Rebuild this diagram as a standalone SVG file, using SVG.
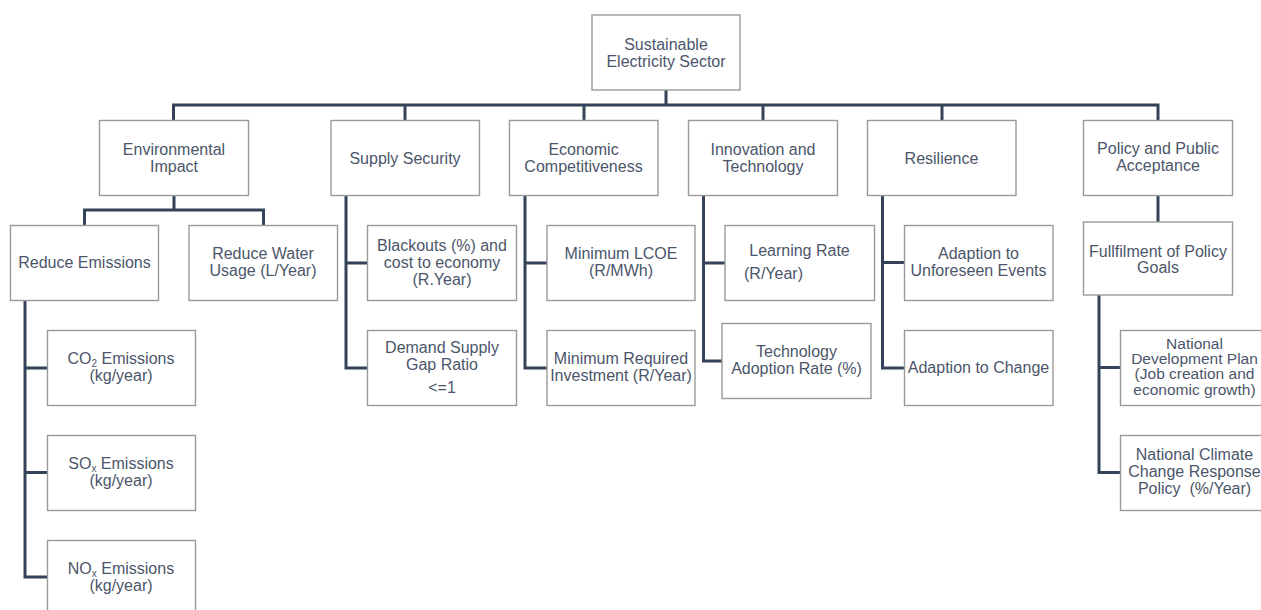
<svg xmlns="http://www.w3.org/2000/svg" width="1261" height="610" viewBox="0 0 1261 610">
  <style>
    .box { fill: #ffffff; stroke: #9a9a9a; stroke-width: 1.4; }
    .lbl { font-family: "Liberation Sans", Arial, Helvetica, sans-serif; font-size: 16px; fill: #4b566a; text-anchor: middle; }
    .small { font-size: 15.5px; }
    .sub { font-size: 10px; }
    .wire { fill: none; stroke: #34425a; stroke-width: 3; stroke-linejoin: miter; stroke-linecap: butt; }
  </style>
  <rect width="1261" height="610" fill="#ffffff"/>

  <!-- connectors -->
  <g id="connectors">
    <!-- root to first level -->
    <path class="wire" d="M666 90 V105"/>
    <path class="wire" d="M173.5 120 V105 H1158 V120"/>
    <path class="wire" d="M405 105 V120 M584 105 V120 M763 105 V120 M942 105 V120"/>
    <!-- Environmental Impact -->
    <path class="wire" d="M174 195 V210 M84.5 225 V210 H263.5 V225"/>
    <!-- Reduce Emissions -->
    <path class="wire" d="M25 300 V577 H47.5 M25 368 H47.5 M25 472.5 H47.5"/>
    <!-- Supply Security -->
    <path class="wire" d="M346 195 V368 H367.5 M346 263 H367.5"/>
    <!-- Economic Competitiveness -->
    <path class="wire" d="M525 195 V368 H547 M525 263 H547"/>
    <!-- Innovation and Technology -->
    <path class="wire" d="M703.5 195 V361 H722 M703.5 263 H725"/>
    <!-- Resilience -->
    <path class="wire" d="M882.5 195 V368 H904.5 M882.5 262.5 H904.5"/>
    <!-- Policy and Public Acceptance -->
    <path class="wire" d="M1158 195.5 V222"/>
    <path class="wire" d="M1099 295 V472.5 H1120.5 M1099 367.5 H1120.5"/>
  </g>

  <!-- root -->
  <g id="root">
    <rect class="box" x="592" y="15" width="148" height="75"/>
    <text class="lbl" x="666" y="49.5">Sustainable</text>
    <text class="lbl" x="666" y="66.5">Electricity Sector</text>
  </g>

  <!-- first level -->
  <g id="environmental-impact">
    <rect class="box" x="99.5" y="120.5" width="149" height="75"/>
    <text class="lbl" x="174" y="154.5">Environmental</text>
    <text class="lbl" x="174" y="171.5">Impact</text>
  </g>
  <g id="supply-security">
    <rect class="box" x="331" y="120.5" width="148.5" height="75"/>
    <text class="lbl" x="405" y="163.5">Supply Security</text>
  </g>
  <g id="economic-competitiveness">
    <rect class="box" x="509.5" y="120.5" width="148.5" height="75"/>
    <text class="lbl" x="583.5" y="154.5">Economic</text>
    <text class="lbl" x="583.5" y="171.5">Competitiveness</text>
  </g>
  <g id="innovation-technology">
    <rect class="box" x="688.5" y="120.5" width="149" height="75"/>
    <text class="lbl" x="763" y="154.5">Innovation and</text>
    <text class="lbl" x="763" y="171.5">Technology</text>
  </g>
  <g id="resilience">
    <rect class="box" x="867.5" y="120.5" width="148.5" height="75"/>
    <text class="lbl" x="941.5" y="163.5">Resilience</text>
  </g>
  <g id="policy-acceptance">
    <rect class="box" x="1083.5" y="120.5" width="149" height="75"/>
    <text class="lbl" x="1158" y="154">Policy and Public</text>
    <text class="lbl" x="1158" y="171">Acceptance</text>
  </g>

  <!-- Environmental Impact branch -->
  <g id="reduce-emissions">
    <rect class="box" x="10.5" y="225.5" width="148" height="75"/>
    <text class="lbl" x="84.5" y="267.5">Reduce Emissions</text>
  </g>
  <g id="reduce-water">
    <rect class="box" x="189" y="225.5" width="148.5" height="75"/>
    <text class="lbl" x="263" y="258.5">Reduce Water</text>
    <text class="lbl" x="263" y="275.5">Usage (L/Year)</text>
  </g>
  <g id="co2-emissions">
    <rect class="box" x="47.5" y="330.5" width="148" height="75"/>
    <text class="lbl" x="121" y="363.5">CO<tspan class="sub" dy="3">2</tspan><tspan dy="-3"> Emissions</tspan></text>
    <text class="lbl" x="121" y="381">(kg/year)</text>
  </g>
  <g id="sox-emissions">
    <rect class="box" x="47.5" y="435.5" width="148" height="75"/>
    <text class="lbl" x="121" y="468.5">SO<tspan class="sub" dy="3">x</tspan><tspan dy="-3"> Emissions</tspan></text>
    <text class="lbl" x="121" y="486">(kg/year)</text>
  </g>
  <g id="nox-emissions">
    <rect class="box" x="47.5" y="540.5" width="148" height="75"/>
    <text class="lbl" x="121" y="573.5">NO<tspan class="sub" dy="3">x</tspan><tspan dy="-3"> Emissions</tspan></text>
    <text class="lbl" x="121" y="591">(kg/year)</text>
  </g>

  <!-- Supply Security branch -->
  <g id="blackouts">
    <rect class="box" x="367.5" y="225.5" width="149" height="75"/>
    <text class="lbl" x="442" y="250.5">Blackouts (%) and</text>
    <text class="lbl" x="442" y="267.5">cost to economy</text>
    <text class="lbl" x="442" y="284.5">(R.Year)</text>
  </g>
  <g id="demand-supply-gap">
    <rect class="box" x="367.5" y="330.5" width="149" height="75"/>
    <text class="lbl" x="442" y="352.5">Demand Supply</text>
    <text class="lbl" x="442" y="369.5">Gap Ratio</text>
    <text class="lbl" x="442" y="392.5">&lt;=1</text>
  </g>

  <!-- Economic Competitiveness branch -->
  <g id="minimum-lcoe">
    <rect class="box" x="547" y="225.5" width="148" height="75"/>
    <text class="lbl" x="621" y="258.5">Minimum LCOE</text>
    <text class="lbl" x="621" y="275.5">(R/MWh)</text>
  </g>
  <g id="minimum-investment">
    <rect class="box" x="547" y="330.5" width="148" height="75"/>
    <text class="lbl" x="621" y="363.5">Minimum Required</text>
    <text class="lbl" x="621" y="380.5">Investment (R/Year)</text>
  </g>

  <!-- Innovation and Technology branch -->
  <g id="learning-rate">
    <rect class="box" x="725" y="225.5" width="149.5" height="75"/>
    <text class="lbl" x="799.5" y="256">Learning Rate</text>
    <text class="lbl" x="744" y="279" style="text-anchor:start">(R/Year)</text>
  </g>
  <g id="technology-adoption">
    <rect class="box" x="722" y="323.5" width="149" height="75"/>
    <text class="lbl" x="796.5" y="356.5">Technology</text>
    <text class="lbl" x="796.5" y="373.5">Adoption Rate (%)</text>
  </g>

  <!-- Resilience branch -->
  <g id="adaption-unforeseen">
    <rect class="box" x="904.5" y="225.5" width="148.5" height="75"/>
    <text class="lbl" x="978.5" y="258.5">Adaption to</text>
    <text class="lbl" x="978.5" y="275.5">Unforeseen Events</text>
  </g>
  <g id="adaption-change">
    <rect class="box" x="904.5" y="330.5" width="148.5" height="75"/>
    <text class="lbl" x="978.5" y="373">Adaption to Change</text>
  </g>

  <!-- Policy and Public Acceptance branch -->
  <g id="policy-goals">
    <rect class="box" x="1083.5" y="222" width="149" height="73"/>
    <text class="lbl" x="1158" y="256.5">Fullfilment of Policy</text>
    <text class="lbl" x="1158" y="272.5">Goals</text>
  </g>
  <g id="development-plan">
    <rect class="box" x="1120.5" y="330.5" width="149" height="75"/>
    <text class="lbl small" x="1194.5" y="348.5">National</text>
    <text class="lbl small" x="1194.5" y="364">Development Plan</text>
    <text class="lbl small" x="1194.5" y="379.3">(Job creation and</text>
    <text class="lbl small" x="1194.5" y="394.5">economic growth)</text>
  </g>
  <g id="climate-response">
    <rect class="box" x="1120.5" y="435.5" width="149" height="75"/>
    <text class="lbl" x="1194.5" y="460">National Climate</text>
    <text class="lbl" x="1194.5" y="476.5">Change Response</text>
    <text class="lbl" x="1194.5" y="493.5">Policy &#160;(%/Year)</text>
  </g>
</svg>
